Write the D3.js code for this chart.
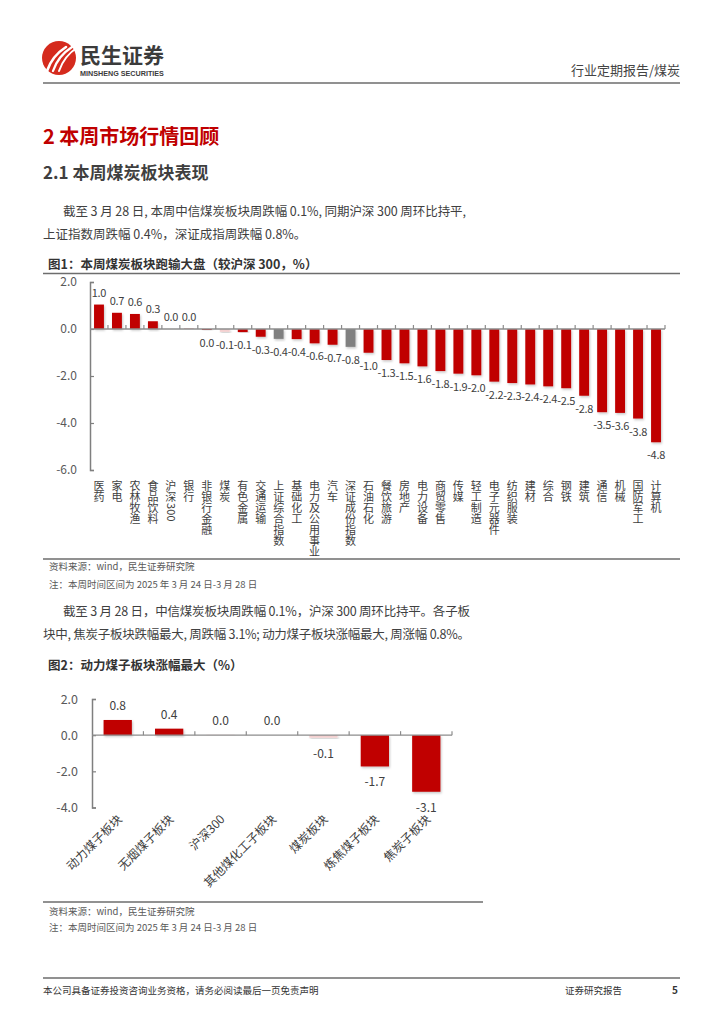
<!DOCTYPE html>
<html><head><meta charset="utf-8">
<script src="https://cdn.jsdelivr.net/npm/d3@7/dist/d3.min.js"></script>
<style>
body{margin:0;background:#fff;}
svg{display:block;font-family:"Noto Sans CJK SC","Noto Sans",sans-serif;}
</style></head>
<body>
<svg id="page" width="724" height="1024"></svg>
<script>
// ---------- DATA ----------
const cats1 = ["医药","家电","农林牧渔","食品饮料","沪深300","银行","非银行金融","煤炭","有色金属","交通运输","上证综合指数","基础化工","电力及公用事业","汽车","深证成份指数","石油石化","餐饮旅游","房地产","电力设备","商贸零售","传媒","轻工制造","电子元器件","纺织服装","建材","综合","钢铁","建筑","通信","机械","国防军工","计算机"];
const vals1 = [1.04,0.69,0.64,0.33,0.0,0.01,-0.04,-0.12,-0.13,-0.33,-0.42,-0.43,-0.61,-0.67,-0.76,-1.01,-1.32,-1.46,-1.59,-1.79,-1.9,-1.97,-2.24,-2.3,-2.36,-2.44,-2.52,-2.84,-3.54,-3.57,-3.81,-4.82];
const grayCats1 = ["上证综合指数","深证成份指数"];
const pinkCats1 = ["煤炭"];
const yTicks1 = [2,0,-2,-4,-6];

const cats2 = ["动力煤子板块","无烟煤子板块","沪深300","其他煤化工子板块","煤炭板块","炼焦煤子板块","焦炭子板块"];
const vals2 = [0.84,0.36,0.02,0.0,-0.14,-1.73,-3.13];
const pinkCats2 = ["沪深300","煤炭板块"];
const yTicks2 = [2,0,-2,-4];

const RED = "#C00000", GRAY = "#808080", PINK = "#F4D0D0";
const fmt = v => { const s = (+v).toFixed(1); return s === "-0.0" ? "0.0" : s; };

const svg = d3.select("#page");
svg.append("rect").attr("width",724).attr("height",1024).attr("fill","#fff");
const defs = svg.append("defs");
defs.append("filter").attr("id","sh").attr("x","-20%").attr("y","-20%").attr("width","150%").attr("height","150%")
  .append("feDropShadow").attr("dx",1).attr("dy",1.5).attr("stdDeviation",0.8)
  .attr("flood-color","#000").attr("flood-opacity",0.22);

// ---------- HEADER ----------
const logo = svg.append("g");
logo.append("circle").attr("cx",59).attr("cy",58).attr("r",17).attr("fill","#D52B1E");
[[0,0],[6,0],[12,0]].forEach((o,i)=>{
  logo.append("path")
    .attr("d",`M${47+o[0]},${71} Q${52+o[0]},${56} ${66+o[0]},${47}`)
    .attr("stroke","#fff").attr("stroke-width",2.6-i*0.3).attr("fill","none").attr("stroke-linecap","round");
});
svg.append("text").attr("x",80).attr("y",63).attr("font-size",21).attr("font-weight",700).attr("fill","#3b3b3b").text("民生证券");
svg.append("text").attr("x",80).attr("y",76).attr("font-size",7.2).attr("font-weight",700).attr("fill","#3b3b3b")
  .attr("font-family","Liberation Sans, Arial, sans-serif").text("MINSHENG SECURITIES");
svg.append("text").attr("x",680).attr("y",75).attr("text-anchor","end").attr("font-size",13).attr("fill","#444").text("行业定期报告/煤炭");
svg.append("line").attr("x1",43).attr("x2",680).attr("y1",83).attr("y2",83).attr("stroke","#6d6d6d").attr("stroke-width",1.6);

// ---------- HEADINGS / TEXT ----------
svg.append("text").attr("x",43).attr("y",144).attr("font-size",20).attr("font-weight",700).attr("fill",RED).text("2 本周市场行情回顾");
svg.append("text").attr("x",43).attr("y",179).attr("font-size",17).attr("font-weight",700).attr("fill","#3f3f3f").text("2.1 本周煤炭板块表现");

function line(x,y,t,len){
  const el = svg.append("text").attr("x",x).attr("y",y).attr("font-size",12.5).attr("fill","#404040").text(t);
  if(len) el.attr("textLength",len).attr("lengthAdjust","spacing");
}
line(63,216,"截至 3 月 28 日, 本周中信煤炭板块周跌幅 0.1%, 同期沪深 300 周环比持平,",403);
line(43,239,"上证指数周跌幅 0.4%，深证成指周跌幅 0.8%。");
line(63,616,"截至 3 月 28 日，中信煤炭板块周跌幅 0.1%，沪深 300 周环比持平。各子板",407);
line(43,639,"块中, 焦炭子板块跌幅最大, 周跌幅 3.1%; 动力煤子板块涨幅最大, 周涨幅 0.8%。",427);

svg.append("text").attr("x",48).attr("y",269).attr("font-size",12.5).attr("font-weight",700).attr("fill","#333").text("图1：本周煤炭板块跑输大盘（较沪深 300，%）");
svg.append("line").attr("x1",43).attr("x2",680).attr("y1",273.5).attr("y2",273.5).attr("stroke","#6d6d6d").attr("stroke-width",1.3);

svg.append("text").attr("x",48).attr("y",670).attr("font-size",12.5).attr("font-weight",700).attr("fill","#333").text("图2：动力煤子板块涨幅最大（%）");

// vertical (stacked) label as ONE text element: CJK upright, ASCII glyphs rotated 90deg
function verticalLabel(parent, label, cx, y0, fs){
  const chars = Array.from(label);
  const xs = [], ys = [], rs = [];
  let cur = y0;
  chars.forEach((ch,i)=>{
    const ascii = /[\x00-\x7F]/.test(ch);
    if(ascii){
      xs.push(cx - fs*0.36); ys.push(cur + 1); rs.push(90);
      cur += fs*0.57;
    } else {
      const prevAscii = i>0 && /[\x00-\x7F]/.test(chars[i-1]);
      if(prevAscii) cur += 2;
      xs.push(cx - fs/2); ys.push(cur + fs*0.88); rs.push(0);
      cur += fs;
    }
  });
  parent.append("text").attr("font-size",fs).attr("fill","#404040")
    .attr("x",xs.join(" ")).attr("y",ys.join(" ")).attr("rotate",rs.join(" "))
    .text(label);
}

// ---------- CHART BUILDER ----------
function drawChart(opt){
  const g = svg.append("g");
  const x = d3.scaleBand().domain(opt.cats).range([opt.x0,opt.x1]).padding(0);
  const y = d3.scaleLinear().domain(opt.domain).range([opt.yb,opt.yt]);
  const bw = x.step()*opt.barFrac;
  const off = (x.step()-bw)/2;
  const y0 = y(0);
  const color = c => opt.gray.includes(c) ? GRAY : (opt.pink.includes(c) ? PINK : RED);

  g.append("g").selectAll("rect").data(opt.cats.map((c,i)=>({c,v:opt.vals[i]}))).join("rect")
    .attr("x",d=>x(d.c)+off).attr("width",bw)
    .attr("y",d=>Math.min(y(d.v),y0)).attr("height",d=>Math.abs(y(d.v)-y0))
    .attr("fill",d=>color(d.c)).attr("filter","url(#sh)");

  const ya = d3.axisLeft(y).tickValues(opt.ticks).tickSizeInner(-4).tickSizeOuter(-4).tickPadding(opt.tickPad).tickFormat(fmt);
  const yg = g.append("g").attr("transform",`translate(${opt.x0},0)`).call(ya);
  yg.select(".domain").attr("stroke","#7f7f7f").attr("stroke-width",1.5);
  yg.selectAll(".tick line").attr("stroke","#7f7f7f").attr("stroke-width",1.2);
  yg.selectAll(".tick text").attr("fill","#595959").attr("font-size",opt.tickFont).attr("font-family","Noto Sans CJK SC, sans-serif");

  g.append("line").attr("x1",opt.x0).attr("x2",opt.x1).attr("y1",y0).attr("y2",y0).attr("stroke","#8c8c8c").attr("stroke-width",1.3);
  g.append("g").selectAll("line").data(opt.cats).join("line")
    .attr("x1",c=>x(c)+x.step()).attr("x2",c=>x(c)+x.step())
    .attr("y1",y0).attr("y2",y0-4).attr("stroke","#8c8c8c").attr("stroke-width",1.2);

  g.append("g").selectAll("text").data(opt.cats.map((c,i)=>({c,v:opt.vals[i]}))).join("text")
    .attr("x",d=>x(d.c)+x.step()/2)
    .attr("y",d=> d.v>=0 ? y(d.v)-opt.labAbove : y(d.v)+opt.labBelow)
    .attr("text-anchor","middle").attr("font-size",opt.valFont).attr("fill","#404040")
    .attr("letter-spacing",opt.valSpacing||0)
    .text(d=>fmt(d.v));

  if(opt.vertical){
    const cg = g.append("g");
    opt.cats.forEach(c=>verticalLabel(cg, c, x(c)+x.step()/2, opt.catY, opt.catFont));
  } else {
    g.append("g").selectAll("text").data(opt.cats).join("text")
      .attr("font-size",opt.catFont).attr("fill","#404040").text(c=>c)
      .attr("text-anchor","end")
      .attr("transform",c=>`translate(${x(c)+x.step()/2+5},${opt.catY}) rotate(-45)`);
  }
  return {x,y};
}

drawChart({cats:cats1,vals:vals1,gray:grayCats1,pink:pinkCats1,ticks:yTicks1,
  x0:90,x1:665,domain:[-6,2],yb:470,yt:282,barFrac:0.55,tickPad:13,tickFont:12,
  labAbove:8,labBelow:17,valFont:11,valSpacing:-0.3,catFont:11,vertical:true,catY:480});

drawChart({cats:cats2,vals:vals2,gray:[],pink:pinkCats2,ticks:yTicks2,
  x0:92,x1:452,domain:[-4,2],yb:807.5,yt:699,barFrac:0.55,tickPad:14,tickFont:12.5,
  labAbove:10,labBelow:20,valFont:12,catFont:12,vertical:false,catY:820});

// ---------- SOURCES ----------
svg.append("line").attr("x1",43).attr("x2",680).attr("y1",559).attr("y2",559).attr("stroke","#6d6d6d").attr("stroke-width",1.3);
svg.append("text").attr("x",49).attr("y",570).attr("font-size",9.5).attr("fill","#595959").text("资料来源：wind，民生证券研究院");
svg.append("text").attr("x",49).attr("y",588).attr("font-size",9.5).attr("fill","#595959").text("注：本周时间区间为 2025 年 3 月 24 日-3 月 28 日");

svg.append("line").attr("x1",43).attr("x2",483).attr("y1",902).attr("y2",902).attr("stroke","#6d6d6d").attr("stroke-width",1.3);
svg.append("text").attr("x",49).attr("y",915).attr("font-size",9.5).attr("fill","#595959").text("资料来源：wind，民生证券研究院");
svg.append("text").attr("x",49).attr("y",931).attr("font-size",9.5).attr("fill","#595959").text("注：本周时间区间为 2025 年 3 月 24 日-3 月 28 日");

// ---------- FOOTER ----------
svg.append("line").attr("x1",43).attr("x2",680).attr("y1",978).attr("y2",978).attr("stroke","#6d6d6d").attr("stroke-width",1.6);
svg.append("text").attr("x",43).attr("y",994).attr("font-size",9.5).attr("fill","#333").text("本公司具备证券投资咨询业务资格，请务必阅读最后一页免责声明");
svg.append("text").attr("x",565).attr("y",994).attr("font-size",9.5).attr("fill","#333").text("证券研究报告");
svg.append("text").attr("x",672).attr("y",994).attr("font-size",10).attr("font-weight",700).attr("fill","#333").text("5");
</script>
</body></html>
